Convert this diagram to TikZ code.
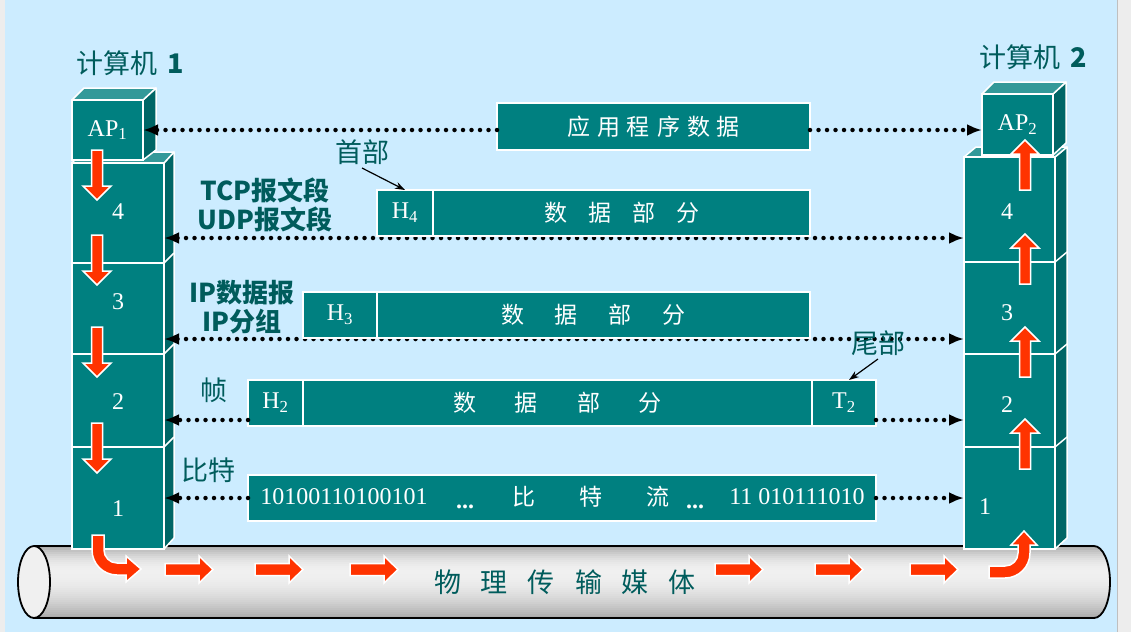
\documentclass[tikz,border=0pt]{standalone}
\usepackage{fontspec}
\setmainfont{Liberation Serif}
\newfontfamily\cjk{Noto Sans CJK SC}
\usetikzlibrary{arrows.meta,positioning}

\definecolor{bgblue}{RGB}{204,236,255}
\definecolor{boxteal}{RGB}{0,128,128}
\definecolor{sideteal}{RGB}{0,102,102}
\definecolor{topteal}{RGB}{51,153,153}
\definecolor{txtteal}{RGB}{0,92,92}
\definecolor{flowred}{RGB}{255,51,0}

\tikzset{
  front/.style={draw=white,line width=1.5pt,fill=boxteal,inner sep=0pt,outer sep=0pt,
    anchor=north west,text=white,font=\fontsize{24}{24}\selectfont},
  sideface/.style={draw=white,line width=1.5pt,fill=sideteal,line join=round},
  topface/.style={draw=white,line width=1.5pt,fill=topteal,line join=round},
  pdu/.style={draw=white,line width=1.5pt,fill=boxteal,inner sep=0pt,outer sep=0pt,
    minimum height=46pt,text=white,font=\fontsize{24}{24}\selectfont},
  pdutext/.style={text=white,font=\cjk\fontsize{23}{23}\selectfont},
  numtext/.style={text=white,font=\fontsize{24}{24}\selectfont},
  lbl/.style={text=txtteal,font=\cjk\fontsize{27}{27}\selectfont},
  boldlbl/.style={text=txtteal,font=\cjk\bfseries\fontsize{26}{26}\selectfont},
  dotlink/.style={line width=4.5pt,dash pattern=on 0pt off 8.5pt,line cap=round},
  dotarrow/.style={dotlink,-{Latex[length=15pt,width=12pt]}},
  dotboth/.style={dotlink,{Latex[length=15pt,width=12pt]}-{Latex[length=15pt,width=12pt]}},
  flow/.style={fill=flowred,draw=white,line width=1.5pt},
  ptr/.style={line width=1.2pt,-{Stealth[length=10pt,width=7pt]}}
}

\begin{document}
\begin{tikzpicture}[x=1pt,y=-1pt]
\useasboundingbox (0,0) rectangle (1131,632);
\fill[black!7] (0,0) rectangle (1131,632);
\fill[bgblue] (5,0) rectangle (1117,632);
\draw[black!25] (1117.5,0) -- (1117.5,632);

% physical medium
\begin{scope}
  \clip (34,546) -- (1094,546) arc[start angle=-90,end angle=90,x radius=16,y radius=36] -- (34,618) -- cycle;
  \foreach \i in {0,...,35} {
    \pgfmathsetmacro\t{(\i+0.5)/36}
    \pgfmathsetmacro\d{\t<0.35 ? 6+28*((0.35-\t)/0.35)^2 : 6+28*((\t-0.35)/0.65)^2}
    \fill[black!\d] (18,546+2*\i) rectangle (1112,548.6+2*\i);
  }
\end{scope}
\draw[line width=1.8pt] (34,546) -- (1094,546) arc[start angle=-90,end angle=90,x radius=16,y radius=36] -- (34,618);
\draw[line width=1.8pt,fill=black!6] (34,582) ellipse[x radius=16,y radius=36];
\node[lbl] (medium) at (565,582) {物\hspace{20pt}理\hspace{20pt}传\hspace{20pt}输\hspace{20pt}媒\hspace{20pt}体};

% computer 1
\filldraw[sideface] (164,163) -- (174,152) -- (174,538) -- (164,549) -- cycle;
\filldraw[topface] (72,163) -- (82,152) -- (174,152) -- (164,163) -- cycle;
\draw[white,line width=1.5pt] (164,263) -- (174,253) (164,354) -- (174,344) (164,447) -- (174,437);
\node[front,minimum width=92pt,minimum height=100pt] (a4) at (72,163) {};
\node[front,minimum width=92pt,minimum height=91pt] (a3) at (72,263) {};
\node[front,minimum width=92pt,minimum height=93pt] (a2) at (72,354) {};
\node[front,minimum width=92pt,minimum height=102pt] (a1) at (72,447) {};
\filldraw[sideface] (143,100) -- (156,88) -- (156,150) -- (143,160) -- cycle;
\filldraw[topface] (72,100) -- (84,88) -- (156,88) -- (143,100) -- cycle;
\node[front,minimum width=71pt,minimum height=60pt] (ap1) at (72,100) {AP\textsubscript{1}};
\node[numtext] at (118,212) {4};
\node[numtext] at (118,302) {3};
\node[numtext] at (118,402) {2};
\node[numtext] at (118,509) {1};

% computer 2
\filldraw[sideface] (1055,157) -- (1067,147) -- (1067,538) -- (1055,549) -- cycle;
\filldraw[topface] (964,157) -- (976,147) -- (1067,147) -- (1055,157) -- cycle;
\draw[white,line width=1.5pt] (1055,262) -- (1067,252) (1055,354) -- (1067,344) (1055,447) -- (1067,437);
\node[front,minimum width=91pt,minimum height=105pt] (c4) at (964,157) {};
\node[front,minimum width=91pt,minimum height=92pt] (c3) at (964,262) {};
\node[front,minimum width=91pt,minimum height=93pt] (c2) at (964,354) {};
\node[front,minimum width=91pt,minimum height=102pt] (c1) at (964,447) {};
\filldraw[sideface] (1053,94) -- (1066,82) -- (1066,143) -- (1053,155) -- cycle;
\filldraw[topface] (982,94) -- (994,82) -- (1066,82) -- (1053,94) -- cycle;
\node[front,minimum width=71pt,minimum height=61pt] (ap2) at (982,94) {AP\textsubscript{2}};
\node[numtext] at (1007,212) {4};
\node[numtext] at (1007,313) {3};
\node[numtext] at (1007,405) {2};
\node[numtext] at (985,507) {1};

\node[lbl] (pc1) at (130,63) {计算机\hspace{10pt}\textbf{1}};
\node[lbl] (pc2) at (1033,57) {计算机\hspace{10pt}\textbf{2}};

% links under the headers
\coordinate (lev4) at (0,238);
\coordinate (lev3) at (0,339);
\coordinate (lev2) at (0,420);
\draw[dotboth] (a4.east |- lev4) -- (c4.west |- lev4);
\draw[dotboth] (a3.east |- lev3) -- (c3.west |- lev3);

% data units
\node[pdu,minimum width=313pt,minimum height=47pt,anchor=north west] (app) at (497,103)
  {\cjk\fontsize{23}{23}\selectfont 应\hspace{7pt}用\hspace{7pt}程\hspace{7pt}序\hspace{7pt}数\hspace{7pt}据};
\node[pdu,minimum width=56pt,anchor=north west] (h4) at (377,190) {H\textsubscript{4}};
\node[pdu,minimum width=377pt,right=0pt of h4,pdutext] (d4) {数\hspace{21pt}据\hspace{21pt}部\hspace{21pt}分\hspace{16pt}};
\node[pdu,minimum width=74pt,anchor=north west] (h3) at (303,292) {H\textsubscript{3}};
\node[pdu,minimum width=433pt,right=0pt of h3,pdutext] (d3) {数\hspace{31pt}据\hspace{31pt}部\hspace{31pt}分\hspace{22pt}};
\node[pdu,minimum width=55pt,anchor=north west] (h2) at (248,380) {H\textsubscript{2}};
\node[pdu,minimum width=509pt,right=0pt of h2,pdutext] (d2) {数\hspace{39pt}据\hspace{39pt}部\hspace{39pt}分};
\node[pdu,minimum width=64pt,right=0pt of d2] (t2) {T\textsubscript{2}};
\node[pdu,minimum width=628pt,anchor=north west] (bits) at (248,475) {};
\node[numtext] at (344,497) {10100110100101};
\node[numtext] at (465,507) {\textbf{...}};
\node[pdutext] at (591,497) {比\hspace{44pt}特\hspace{44pt}流};
\node[numtext] at (695,507) {\textbf{...}};
\node[numtext] at (797,497) {11 010111010};

% peer links
\draw[dotarrow] (ap1.east -| app.west) -- (ap1.east);
\draw[dotarrow] (ap1.east -| app.east) -- (ap1.east -| ap2.west);
\draw[dotarrow] (h2.west |- lev2) -- (a2.east |- lev2);
\draw[dotarrow] (t2.east |- lev2) -- (c2.west |- lev2);
\draw[dotarrow] (bits.west) -- (a1.east |- bits.west);
\draw[dotarrow] (bits.east) -- (c1.west |- bits.east);

% labels
\node[boldlbl] (tcp) at (265,190) {TCP报文段};
\node[boldlbl] (udp) at (265,219) {UDP报文段};
\node[boldlbl] (ipd) at (242,293) {IP数据报};
\node[boldlbl] (ipf) at (242,322) {IP分组};
\node[lbl] (shoubu) at (362,152) {首部};
\node[lbl] (zhen) at (214,390) {帧};
\node[lbl] (bite) at (208,470) {比特};
\node[lbl] (weibu) at (878,343) {尾部};
\draw[ptr] (shoubu.south) -- (h4.north);
\draw[ptr] (weibu.south) -- ([xshift=5pt]t2.north);

% data flow
\foreach \y in {150,235,327,423}
  \filldraw[flow] (91.5,\y) -- ++(11,0) -- ++(0,36) -- ++(8.5,0) -- ++(-14,14) -- ++(-14,-14) -- ++(8.5,0) -- cycle;
\foreach \y in {140,234,327,419}
  \filldraw[flow] (1025,\y) -- ++(14,14) -- ++(-8.5,0) -- ++(0,36) -- ++(-11,0) -- ++(0,-36) -- ++(-8.5,0) -- cycle;
\foreach \x in {165,255,350,715,815,910}
  \filldraw[flow] (\x,563.5) -- ++(34,0) -- ++(0,-7.5) -- ++(14,13.5) -- ++(-14,13.5) -- ++(0,-7.5) -- ++(-34,0) -- cycle;
\filldraw[flow] (92,535) -- (92,550) arc[start angle=180,end angle=90,radius=25] -- (126,575) -- (126,582)
  -- (141,569) -- (126,556) -- (126,563) -- (117,563) arc[start angle=90,end angle=180,radius=13] -- (104,535) -- cycle;
\filldraw[flow] (989,578) -- (1005,578) arc[start angle=90,end angle=0,radius=25] -- (1030,545) -- (1037,545)
  -- (1024,531) -- (1011,545) -- (1018,545) -- (1018,553) arc[start angle=0,end angle=90,radius=13] -- (989,566) -- cycle;
\end{tikzpicture}
\end{document}
